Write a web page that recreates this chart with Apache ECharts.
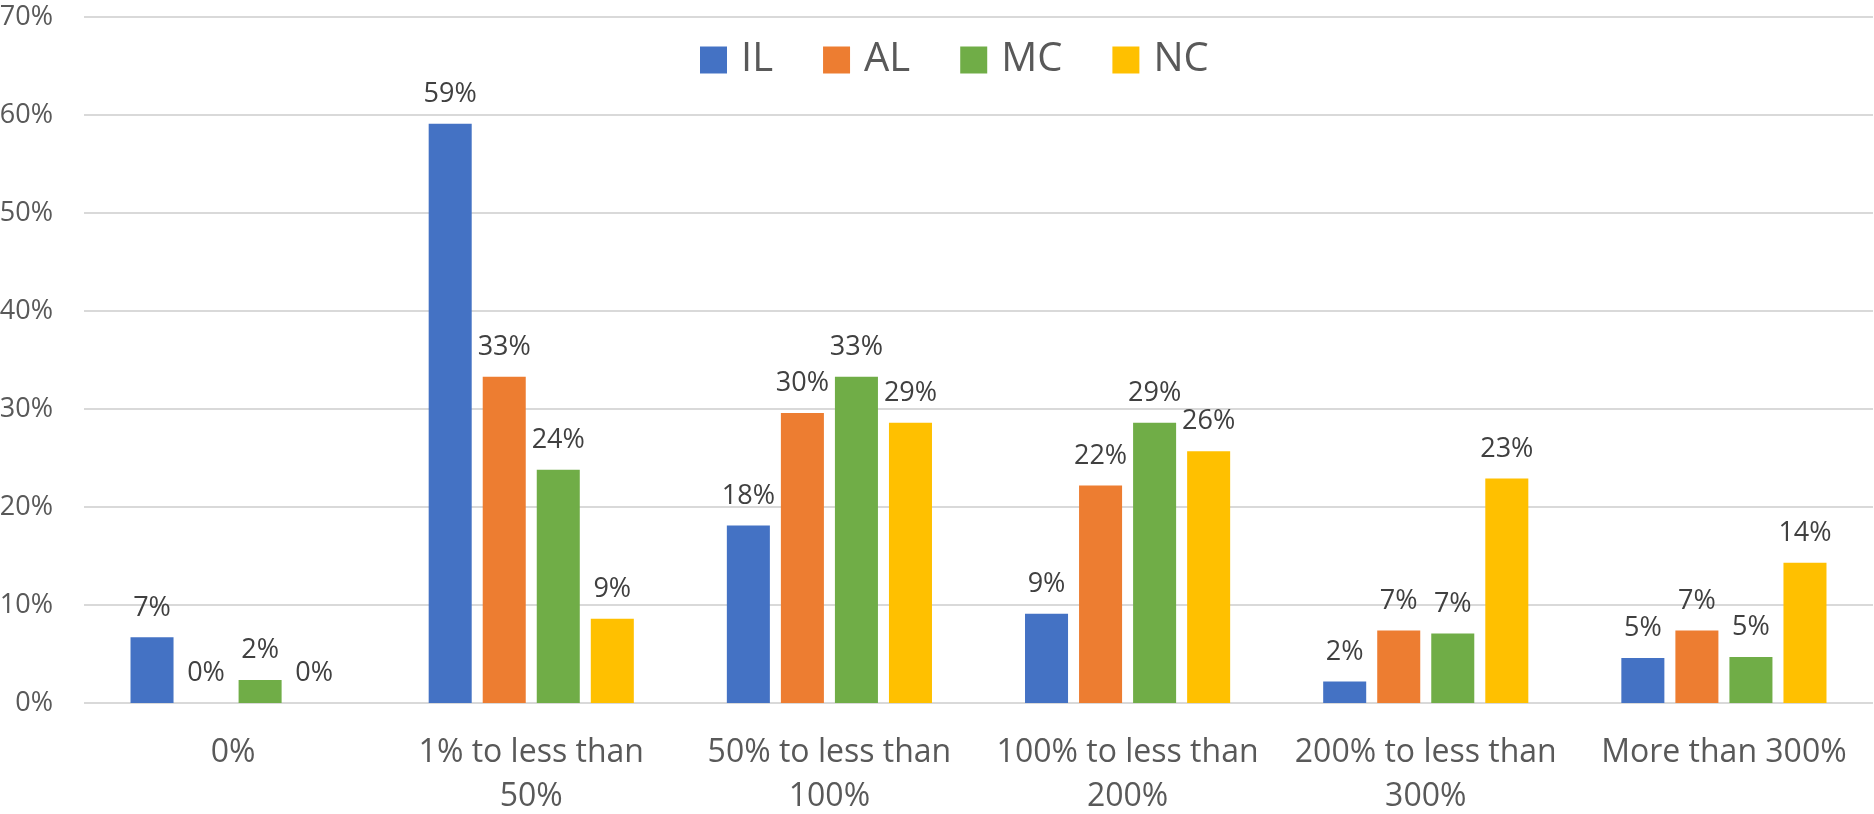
<!DOCTYPE html>
<html>
<head>
<meta charset="utf-8">
<script src="https://cdn.jsdelivr.net/npm/echarts@6/dist/echarts.min.js"></script>
<style>
html,body{margin:0;padding:0;background:#fff;}
#chart{width:1874px;height:814px;}
</style>
</head>
<body>
<div id="chart"></div>
<script>
const categories = ["0%", "1% to less than 50%", "50% to less than 100%", "100% to less than 200%", "200% to less than 300%", "More than 300%"];
const seriesNames = ["IL", "AL", "MC", "NC"];
const IL = [6.7, 59.1, 18.1, 9.1, 2.2, 4.6];
const AL = [0, 33.3, 29.6, 22.2, 7.4, 7.4];
const MC = [2.35, 23.8, 33.3, 28.6, 7.1, 4.7];
const NC = [0, 8.6, 28.6, 25.7, 22.9, 14.3];
const yTicks = [0, 10, 20, 30, 40, 50, 60, 70];
const colors = ["#4472C4", "#ED7D31", "#70AD47", "#FFC000"];

const FONT = "'Open Sans', 'Noto Sans', sans-serif";
const allData = [IL, AL, MC, NC];

const chart = echarts.init(document.getElementById('chart'));
chart.setOption({
  animation: false,
  backgroundColor: '#ffffff',
  textStyle: { fontFamily: FONT },
  legend: {
    data: seriesNames,
    left: 700,
    top: 36,
    padding: 0,
    icon: 'rect',
    itemWidth: 27,
    itemHeight: 27,
    itemGap: 50,
    textStyle: { fontFamily: FONT, fontSize: 40, color: '#595959', lineHeight: 48, padding: [0, 0, 0, 9] }
  },
  grid: {
    left: 84,
    right: 1,
    top: 17,
    bottom: 111,
    containLabel: false,
    outerBoundsMode: 'none'
  },
  xAxis: {
    type: 'category',
    data: categories,
    axisLine: { show: false },
    axisTick: { show: false },
    axisLabel: {
      interval: 0,
      margin: 28,
      fontFamily: FONT,
      fontSize: 32,
      lineHeight: 44,
      color: '#595959',
      formatter: v => v.replace(' to less than ', ' to less than\n')
    }
  },
  yAxis: {
    type: 'value',
    min: yTicks[0],
    max: yTicks[yTicks.length - 1],
    interval: yTicks[1] - yTicks[0],
    axisLine: { show: false },
    axisTick: { show: false },
    axisLabel: { formatter: '{value}%', fontFamily: FONT, fontSize: 27, color: '#595959', margin: 31 },
    splitLine: { lineStyle: { color: '#D9D9D9', width: 2 } }
  },
  series: seriesNames.map((name, i) => ({
    name: name,
    type: 'bar',
    data: allData[i],
    barGap: '25.6%',
    barCategoryGap: '31.2%',
    itemStyle: { color: colors[i] },
    label: {
      show: true,
      position: 'top',
      distance: 16,
      fontFamily: FONT,
      fontSize: 27,
      color: '#404040',
      formatter: p => Math.round(p.value) + '%'
    }
  }))
});
</script>
</body>
</html>
